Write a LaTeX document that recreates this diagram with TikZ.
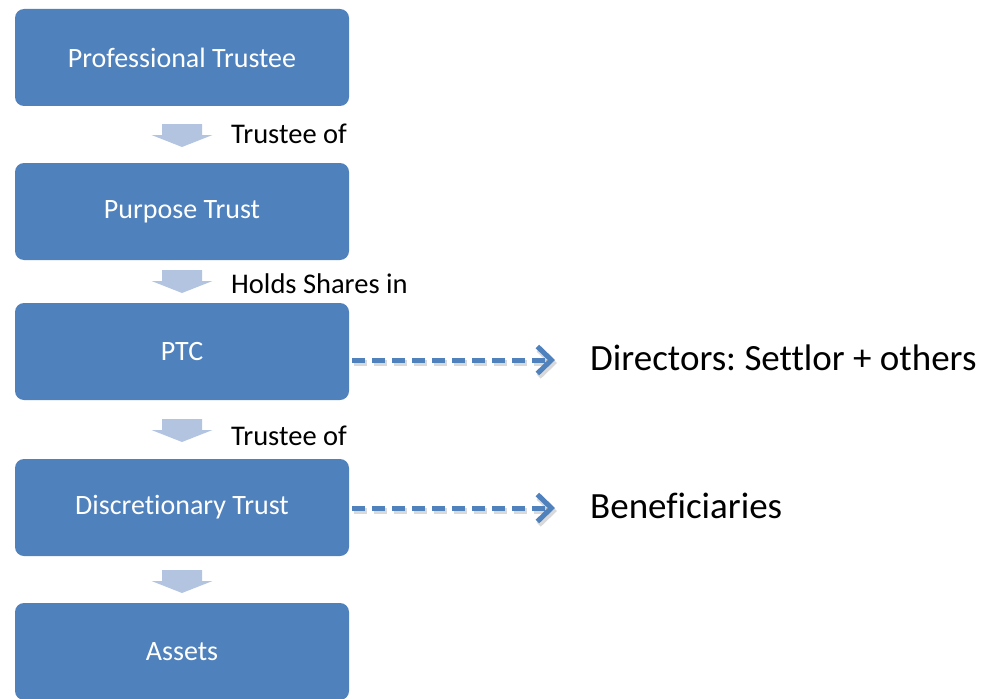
\documentclass[tikz,border=0pt]{standalone}
\usepackage{fontspec}
\setmainfont[RawFeature={-liga;-calt;-clig;-dlig}]{Carlito}
\usetikzlibrary{arrows.meta}
\frenchspacing

\definecolor{boxblue}{RGB}{79,129,189}
\definecolor{stepblue}{RGB}{179,196,224}

\tikzset{
  flowbox/.style={fill=boxblue, rounded corners=9pt, minimum width=334pt,
    minimum height=97pt, inner sep=0pt, text=white,
    font=\fontsize{28}{33}\selectfont},
  steplabel/.style={anchor=base west, inner sep=0pt, text=black,
    font=\fontsize{28.5}{34}\selectfont},
  sidelabel/.style={anchor=base west, inner sep=0pt, text=black,
    font=\fontsize{37}{44}\selectfont},
  dashlink/.style={draw=boxblue, line width=5pt, dash pattern=on 13pt off 7pt,
    -{Straight Barb[length=14pt,width=27pt]}},
  dashshadow/.style={draw=black, opacity=0.15, line width=6pt,
    dash pattern=on 13pt off 7pt, -{Straight Barb[length=14pt,width=27pt]}},
  downstep/.pic={
    \fill[stepblue] (-20,0) -- (20,0) -- (20,-11) -- (30.5,-11)
      -- (0,-23) -- (-30.5,-11) -- (-20,-11) -- cycle;
  }
}

\begin{document}
\begin{tikzpicture}[x=1pt,y=1pt]
  \useasboundingbox (0,0) rectangle (984,-698);

  % the chain of boxes
  \node[flowbox] (pro)   at (182,-57.5)  {Professional Trustee};
  \node[flowbox] (purp)  at (182,-211.5) {Purpose Trust};
  \node[flowbox] (ptc)   at (182,-351.5) {PTC};
  \node[flowbox] (disc)  at (182,-507.5) {Discretionary Trust};
  \node[flowbox] (asset) at (182,-651.5) {Assets};

  % block arrows between the boxes
  \pic at (182,-124) {downstep};
  \pic at (182,-270) {downstep};
  \pic at (182,-419) {downstep};
  \pic at (182,-570) {downstep};

  % relation labels
  \node[steplabel] (l1) at (231,-143.5) {Trustee of};
  \node[steplabel] (l2) at (231,-293)   {Holds Shares in};
  \node[steplabel] (l3) at (231,-445.5) {Trustee of};

  % side notes
  \node[sidelabel] (dir) at (590,-370) {Directors: Settlor + others};
  \node[sidelabel] (ben) at (590,-518) {Beneficiaries};
  \coordinate (dirin) at ([xshift=-35pt,yshift=10pt]dir.base west);
  \coordinate (benin) at ([xshift=-35pt,yshift=10pt]ben.base west);

  % dashed links with soft shadows
  \draw[dashshadow] ([xshift=5pt,yshift=-3pt]ptc.east |- dirin) -- ([xshift=2pt,yshift=-3pt]dirin);
  \draw[dashshadow] ([xshift=5pt,yshift=-3pt]disc.east |- benin) -- ([xshift=2pt,yshift=-3pt]benin);
  \draw[dashlink] ([xshift=3pt]ptc.east |- dirin) -- (dirin);
  \draw[dashlink] ([xshift=3pt]disc.east |- benin) -- (benin);
\end{tikzpicture}
\end{document}
